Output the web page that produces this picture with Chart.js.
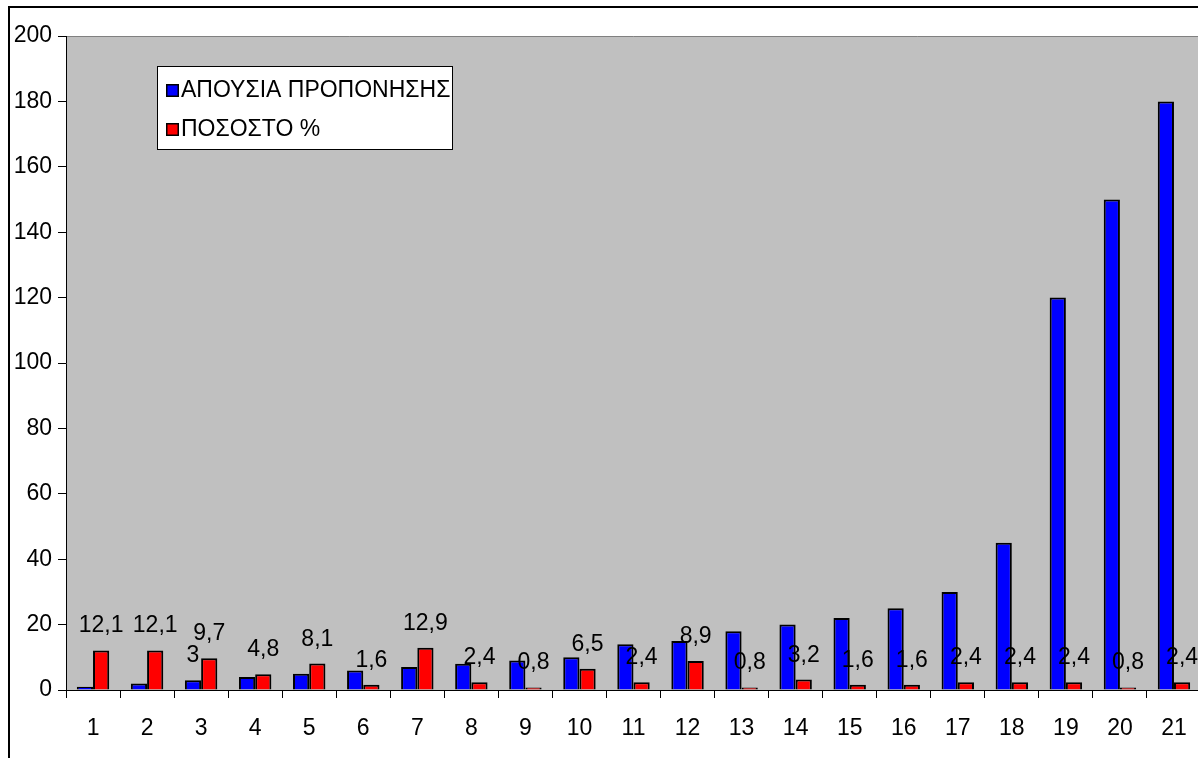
<!DOCTYPE html>
<html>
<head>
<meta charset="utf-8">
<title>ΑΠΟΥΣΙΑ ΠΡΟΠΟΝΗΣΗΣ</title>
<script src="https://cdn.jsdelivr.net/npm/chart.js@4.4.1/dist/chart.umd.min.js"></script>
<style>
  html, body { margin: 0; padding: 0; background: #ffffff; overflow: hidden; }
  #wrap { position: relative; width: 1198px; height: 758px; overflow: hidden; }
  #frame { position: absolute; left: 8px; top: 6px; width: 1300px; height: 900px;
           border-left: 2px solid #000; border-top: 2px solid #000; pointer-events: none; }
  #cv { position: absolute; left: 0; top: 0; }
</style>
</head>
<body>
<div id="wrap">
  <canvas id="cv" width="1204" height="758"></canvas>
  <div id="frame"></div>
</div>
<script>
// Categories along the x axis
const categories = ['1','2','3','4','5','6','7','8','9','10','11','12','13','14','15','16','17','18','19','20','21'];

// Training absence (blue series)
const absence = [1, 2, 3, 4, 5, 6, 7, 8, 9, 10, 14, 15, 18, 20, 22, 25, 30, 45, 120, 150, 180];

// Percentage (red series)
const percent = [12.1, 12.1, 9.7, 4.8, 8.1, 1.6, 12.9, 2.4, 0.8, 6.5, 2.4, 8.9, 0.8, 3.2, 1.6, 1.6, 2.4, 2.4, 2.4, 0.8, 2.4];

// Which bars of each series carry a value label
const absenceLabelled = [false, false, true, false, false, false, false, false, false, false, false,
                         false, false, false, false, false, false, false, false, false, false];
const percentLabelled = percent.map(() => true);

// Y axis tick values
const yTicks = [0, 20, 40, 60, 80, 100, 120, 140, 160, 180, 200];

const seriesNames = ['ΑΠΟΥΣΙΑ ΠΡΟΠΟΝΗΣΗΣ', 'ΠΟΣΟΣΤΟ %'];
const FONT = '"Liberation Sans", Arial, sans-serif';

const fmt = v => String(v).replace('.', ',');

// Grey plot background with a thin top border
const plotBackground = {
  id: 'plotBackground',
  beforeDraw(chart) {
    const { ctx, chartArea: a } = chart;
    ctx.save();
    ctx.fillStyle = '#c0c0c0';
    ctx.fillRect(a.left, a.top, a.right - a.left, a.bottom - a.top);
    ctx.strokeStyle = '#808080';
    ctx.lineWidth = 1;
    ctx.beginPath();
    ctx.moveTo(a.left, a.top + 0.5);
    ctx.lineTo(a.right, a.top + 0.5);
    ctx.stroke();
    ctx.restore();
  }
};

// Value labels above the bars
const valueLabels = {
  id: 'valueLabels',
  afterDatasetsDraw(chart) {
    const { ctx } = chart;
    const flags = [absenceLabelled, percentLabelled];
    ctx.save();
    ctx.font = '23px ' + FONT;
    ctx.fillStyle = '#000';
    ctx.textAlign = 'center';
    ctx.textBaseline = 'alphabetic';
    chart.data.datasets.forEach((ds, di) => {
      const meta = chart.getDatasetMeta(di);
      meta.data.forEach((bar, i) => {
        if (!flags[di][i]) return;
        ctx.fillText(fmt(ds.data[i]), bar.x, bar.y - 18);
      });
    });
    ctx.restore();
  }
};

// Legend box inside the plot area
const boxLegend = {
  id: 'boxLegend',
  afterDraw(chart) {
    const { ctx } = chart;
    const x0 = 157, y0 = 66, w = 296, h = 84;
    ctx.save();
    ctx.fillStyle = '#fff';
    ctx.fillRect(x0, y0, w, h);
    ctx.strokeStyle = '#000';
    ctx.lineWidth = 1;
    ctx.strokeRect(x0 + 0.5, y0 + 0.5, w - 1, h - 1);
    ctx.font = '23px ' + FONT;
    ctx.textAlign = 'left';
    ctx.textBaseline = 'alphabetic';
    chart.data.datasets.forEach((ds, i) => {
      const base = 97 + i * 39;
      ctx.fillStyle = '#000';
      ctx.fillRect(166, base - 13, 13, 13);
      ctx.fillStyle = ds.backgroundColor;
      ctx.fillRect(167.5, base - 11.5, 10, 10);
      ctx.fillStyle = '#000';
      ctx.fillText(ds.label, 181, base);
    });
    ctx.restore();
  }
};

new Chart(document.getElementById('cv'), {
  type: 'bar',
  data: {
    labels: categories,
    datasets: [
      { label: seriesNames[0], data: absence, backgroundColor: '#0000ff',
        borderColor: '#000', borderWidth: 2, borderSkipped: 'bottom' },
      { label: seriesNames[1], data: percent, backgroundColor: '#ff0000',
        borderColor: '#000', borderWidth: 2, borderSkipped: 'bottom' }
    ]
  },
  options: {
    responsive: false,
    animation: false,
    devicePixelRatio: 1,
    layout: { padding: { top: 36, right: 3, left: 0, bottom: 0 } },
    datasets: { bar: { categoryPercentage: 0.6, barPercentage: 1.0 } },
    plugins: { legend: { display: false }, tooltip: { enabled: false } },
    scales: {
      x: {
        grid: { display: true, offset: true, drawOnChartArea: false, drawTicks: true,
                tickLength: 8, color: '#000', tickColor: '#000', lineWidth: 1 },
        border: { display: true, color: '#000', width: 1 },
        ticks: { color: '#000', font: { family: FONT, size: 23 }, padding: 17, maxRotation: 0, autoSkip: false },
        afterFit(scale) { scale.height = 68; }
      },
      y: {
        min: 0, max: 200,
        afterBuildTicks(scale) { scale.ticks = yTicks.map(v => ({ value: v })); },
        grid: { display: true, drawOnChartArea: false, drawTicks: true,
                tickLength: 8, color: '#000', tickColor: '#000', lineWidth: 1 },
        border: { display: true, color: '#000', width: 1 },
        ticks: { color: '#000', font: { family: FONT, size: 23 }, padding: 6 },
        afterFit(scale) { scale.width = 66; }
      }
    }
  },
  plugins: [plotBackground, valueLabels, boxLegend]
});
</script>
</body>
</html>
